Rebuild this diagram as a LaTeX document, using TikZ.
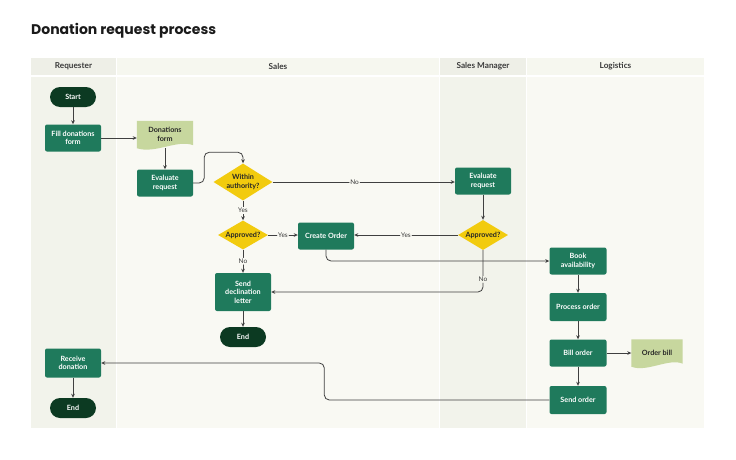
\documentclass[tikz,border=0pt]{standalone}
\usepackage{fontspec}
\setmainfont{Lato}
\newfontfamily\titlefont{Poppins}
\usetikzlibrary{arrows.meta,shapes.geometric,calc,backgrounds}
\definecolor{procgreen}{HTML}{1F7A5C}
\definecolor{termgreen}{HTML}{0C3A22}
\definecolor{decyellow}{HTML}{F2CB0E}
\definecolor{docolive}{HTML}{C7D79E}
\definecolor{linegrey}{HTML}{404040}
\definecolor{hdrdark}{HTML}{EEEFE7}
\definecolor{hdrlight}{HTML}{F6F7EF}
\definecolor{bodydark}{HTML}{F2F3EB}
\definecolor{bodylight}{HTML}{F9F9F3}
\definecolor{titlecol}{HTML}{1A1A1A}
\definecolor{hdrtext}{HTML}{3A3A3A}
\begin{document}
\begin{tikzpicture}[x=1pt,y=-1pt,
  nodefont/.style={font=\bfseries\fontsize{7.2}{8.4}\selectfont},
  proc/.style={nodefont, fill=procgreen, rounded corners=2pt, text=white, minimum width=56pt, minimum height=27pt, align=center, inner sep=1pt},
  term/.style={nodefont, fill=termgreen, rounded corners=10pt, text=white, minimum width=46pt, minimum height=20pt, inner sep=1pt},
  dec/.style={diamond, fill=decyellow, inner sep=0pt},
  declbl/.style={nodefont, text=black!85, align=center, inner sep=0pt},
  docn/.style={nodefont, text=black!85, minimum width=56pt, minimum height=27pt, align=center, inner sep=1pt},
  docfill/.style={fill=docolive},
  hdr/.style={font=\bfseries\fontsize{8.2}{9}\selectfont, text=hdrtext},
  conn/.style={draw=linegrey, line width=0.8pt, rounded corners=5pt, -{Stealth[length=4pt,width=3.6pt]}},
  lbl/.style={font=\fontsize{6.5}{7.5}\selectfont, text=hdrtext, fill=bodylight, inner sep=1pt},
]
\useasboundingbox (0,0) rectangle (736,460);

% lanes
\begin{scope}[on background layer]
\fill[white] (0,0) rectangle (736,460);
\fill[hdrdark] (31,58) rectangle (116,75);
\fill[hdrlight] (117,58) rectangle (439,75);
\fill[hdrdark] (440,58) rectangle (526,75);
\fill[hdrlight] (527,58) rectangle (704,75);
\fill[bodydark] (31,76.5) rectangle (116,428);
\fill[bodylight] (117,76.5) rectangle (439,428);
\fill[bodydark] (440,76.5) rectangle (526,428);
\fill[bodylight] (527,76.5) rectangle (704,428);
\end{scope}

\node[anchor=base west, font=\titlefont\bfseries\fontsize{14}{17}\selectfont, text=titlecol, inner sep=0pt] (title) at (31,35) {Donation request process};

\node[hdr] (hreq) at (73.5,66.5) {Requester};
\node[hdr] (hsales) at (278,66.5) {Sales};
\node[hdr] (hsm) at (483,66.5) {Sales Manager};
\node[hdr] (hlog) at (615.5,66.5) {Logistics};

% nodes
\node[term] (start) at (73,97) {Start};
\node[proc] (fill) at (73,138) {Fill donations\\form};
\node[docn] (dform) at (165,134.5) {Donations\\form};
\node[proc] (eval1) at (165,183) {Evaluate\\request};
\node[dec, minimum width=59pt, minimum height=37pt, label={[declbl]center:Within\\authority?}] (within) at (243,182) {};
\node[dec, minimum width=50pt, minimum height=29pt, label={[declbl]center:Approved?}] (appr1) at (243,235) {};
\node[proc] (create) at (326,236) {Create Order};
\node[proc, minimum height=38pt] (decline) at (243,292) {Send\\declination\\letter};
\node[term] (end2) at (243,337) {End};
\node[proc] (evalsm) at (483,181) {Evaluate\\request};
\node[dec, minimum width=50pt, minimum height=30pt, label={[declbl]center:Approved?}] (apprsm) at (483,235) {};
\node[proc, minimum width=57pt] (book) at (578,261) {Book\\availability};
\node[proc, minimum width=57pt, minimum height=28pt] (process) at (578,307) {Process order};
\node[proc, minimum width=57pt] (bill) at (578,353) {Bill order};
\node[docn, minimum width=51pt] (obill) at (657,353) {Order bill};
\node[proc, minimum width=57pt, minimum height=28pt] (send) at (578,400) {Send order};
\node[proc, minimum height=29pt] (receive) at (73,363) {Receive\\donation};
\node[term] (end1) at (73,408) {End};

% document shapes
\begin{scope}[on background layer]
\foreach \d in {dform,obill}{
  \fill[docfill] (\d.north west) -- (\d.north east) -- ($(\d.south east)+(0,-3)$)
    .. controls ($(\d.south)+(12,-9)$) and ($(\d.south)+(-10,6)$) .. (\d.south west) -- cycle;
}
\end{scope}

% connectors
\draw[conn] (start) -- (fill);
\draw[conn] (fill.east) -- (fill.east -| dform.west);
\draw[conn] (dform.south) -- (eval1.north);
\draw[conn] (eval1.east) -- ++(11,0) |- ($(within.north)+(0,-11)$) -- (within.north);
\draw[conn] (within.south) -- node[lbl]{Yes} (appr1.north);
\draw[conn] (within.east) -- node[lbl, pos=0.45]{No} (within.east -| evalsm.west);
\draw[conn] (appr1.east) -- node[lbl]{Yes} (appr1.east -| create.west);
\draw[conn] (appr1.south) -- node[lbl]{No} (decline.north);
\draw[conn] (decline) -- (end2);
\draw[conn] (evalsm) -- (apprsm);
\draw[conn] (apprsm.west) -- node[lbl]{Yes} (apprsm.west -| create.east);
\draw[conn] (create.south) |- (book.west);
\draw[conn] (apprsm.south) |- node[lbl, fill=bodydark, pos=0.35]{No} (decline.east);
\draw[conn] (book) -- (process);
\draw[conn] (process) -- (bill);
\draw[conn] (bill) -- (send);
\draw[conn] (bill.east) -- (bill.east -| obill.west);
\draw[conn] (send.west) -- ++(-225,0) |- (receive.east);
\draw[conn] (receive) -- (end1);
\end{tikzpicture}
\end{document}
